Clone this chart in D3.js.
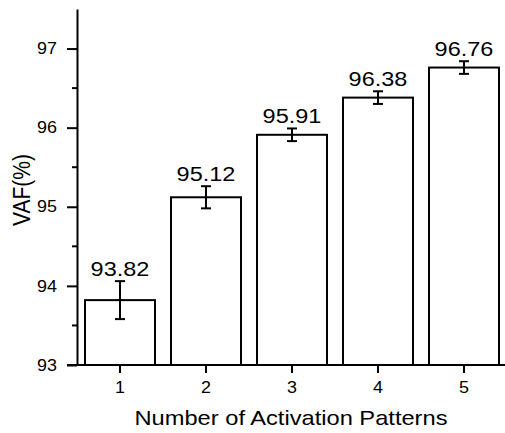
<!DOCTYPE html>
<html>
<head>
<meta charset="utf-8">
<script src="https://cdn.jsdelivr.net/npm/d3@7"></script>
<style>
  body { margin: 0; background: #fff; }
  text { font-family: "Liberation Sans", Arial, sans-serif; fill: #000; }
</style>
</head>
<body>
<svg id="chart" width="505" height="433"></svg>
<script>
const categories = ["1", "2", "3", "4", "5"];
const vafMeans = [93.82, 95.12, 95.91, 96.38, 96.76];
const vafErrors = [0.24, 0.14, 0.08, 0.08, 0.08];
const yMajorTicks = [93, 94, 95, 96, 97];
const yMinorTicks = [93.5, 94.5, 95.5, 96.5];

const svg = d3.select("#chart");
const stretch = "scale(1.12,1)";

const x = d3.scaleBand()
	.domain(categories)
	.range([77, 507])
	.paddingInner(0.186)
	.paddingOuter(0.093);

const y = d3.scaleLinear()
	.domain([93, 97.5])
	.range([365, 9]);

// bars
svg.append("g").selectAll("rect")
	.data(categories)
	.enter()
	.append("rect")
		.attr("x", d => x(d))
		.attr("y", (d, i) => y(vafMeans[i]))
		.attr("width", x.bandwidth())
		.attr("height", (d, i) => y(93) - y(vafMeans[i]))
		.style("fill", "white")
		.style("stroke", "black")
		.style("stroke-width", 2);

// error bars
const err = svg.append("g").selectAll("g")
	.data(categories)
	.enter()
	.append("g")
	.attr("transform", d => "translate(" + (x(d) + x.bandwidth() / 2) + ",0)");

err.append("line")
	.attr("y1", (d, i) => y(vafMeans[i] + vafErrors[i]))
	.attr("y2", (d, i) => y(vafMeans[i] - vafErrors[i]))
	.style("stroke", "black").style("stroke-width", 2);

err.selectAll(".cap")
	.data((d, i) => [vafMeans[i] + vafErrors[i], vafMeans[i] - vafErrors[i]])
	.enter()
	.append("line")
		.attr("class", "cap")
		.attr("x1", -5).attr("x2", 5)
		.attr("y1", v => y(v)).attr("y2", v => y(v))
		.style("stroke", "black").style("stroke-width", 2);

// value labels
err.append("text")
	.attr("transform", stretch)
	.attr("text-anchor", "middle")
	.attr("y", (d, i) => y(vafMeans[i] + vafErrors[i]) - 5)
	.style("font-size", "21px")
	.text((d, i) => vafMeans[i].toFixed(2));

// x axis
const xAxis = svg.append("g")
	.attr("transform", "translate(0,365)")
	.call(d3.axisBottom(x).tickSize(8).tickPadding(9).tickSizeOuter(0));
xAxis.select(".domain").attr("d", "M67,0H505").style("stroke-width", 2);
xAxis.selectAll(".tick line").style("stroke-width", 2);
xAxis.selectAll(".tick text")
	.attr("transform", stretch)
	.style("font-size", "16px");

// y axis
const yAxis = svg.append("g")
	.attr("transform", "translate(77,0)")
	.call(d3.axisLeft(y).tickValues(yMajorTicks).tickFormat(d3.format("d")).tickSize(10).tickPadding(8).tickSizeOuter(0));
yAxis.select(".domain").style("stroke-width", 2);
yAxis.selectAll(".tick line").style("stroke-width", 2);
yAxis.selectAll(".tick text")
	.attr("transform", stretch)
	.style("font-size", "16px");

yAxis.selectAll(".minor")
	.data(yMinorTicks)
	.enter()
	.append("line")
		.attr("class", "minor")
		.attr("x1", -5).attr("x2", 0)
		.attr("y1", d => y(d)).attr("y2", d => y(d))
		.style("stroke", "black").style("stroke-width", 2);

// axis titles
svg.append("text")
	.attr("x", 291)
	.attr("y", 425)
	.attr("text-anchor", "middle")
	.attr("textLength", 313)
	.attr("lengthAdjust", "spacingAndGlyphs")
	.style("font-size", "21px")
	.text("Number of Activation Patterns");

svg.append("text")
	.attr("transform", "translate(30,190) rotate(-90) scale(1,1.12)")
	.attr("text-anchor", "middle")
	.style("font-size", "21px")
	.text("VAF(%)");
</script>
</body>
</html>
